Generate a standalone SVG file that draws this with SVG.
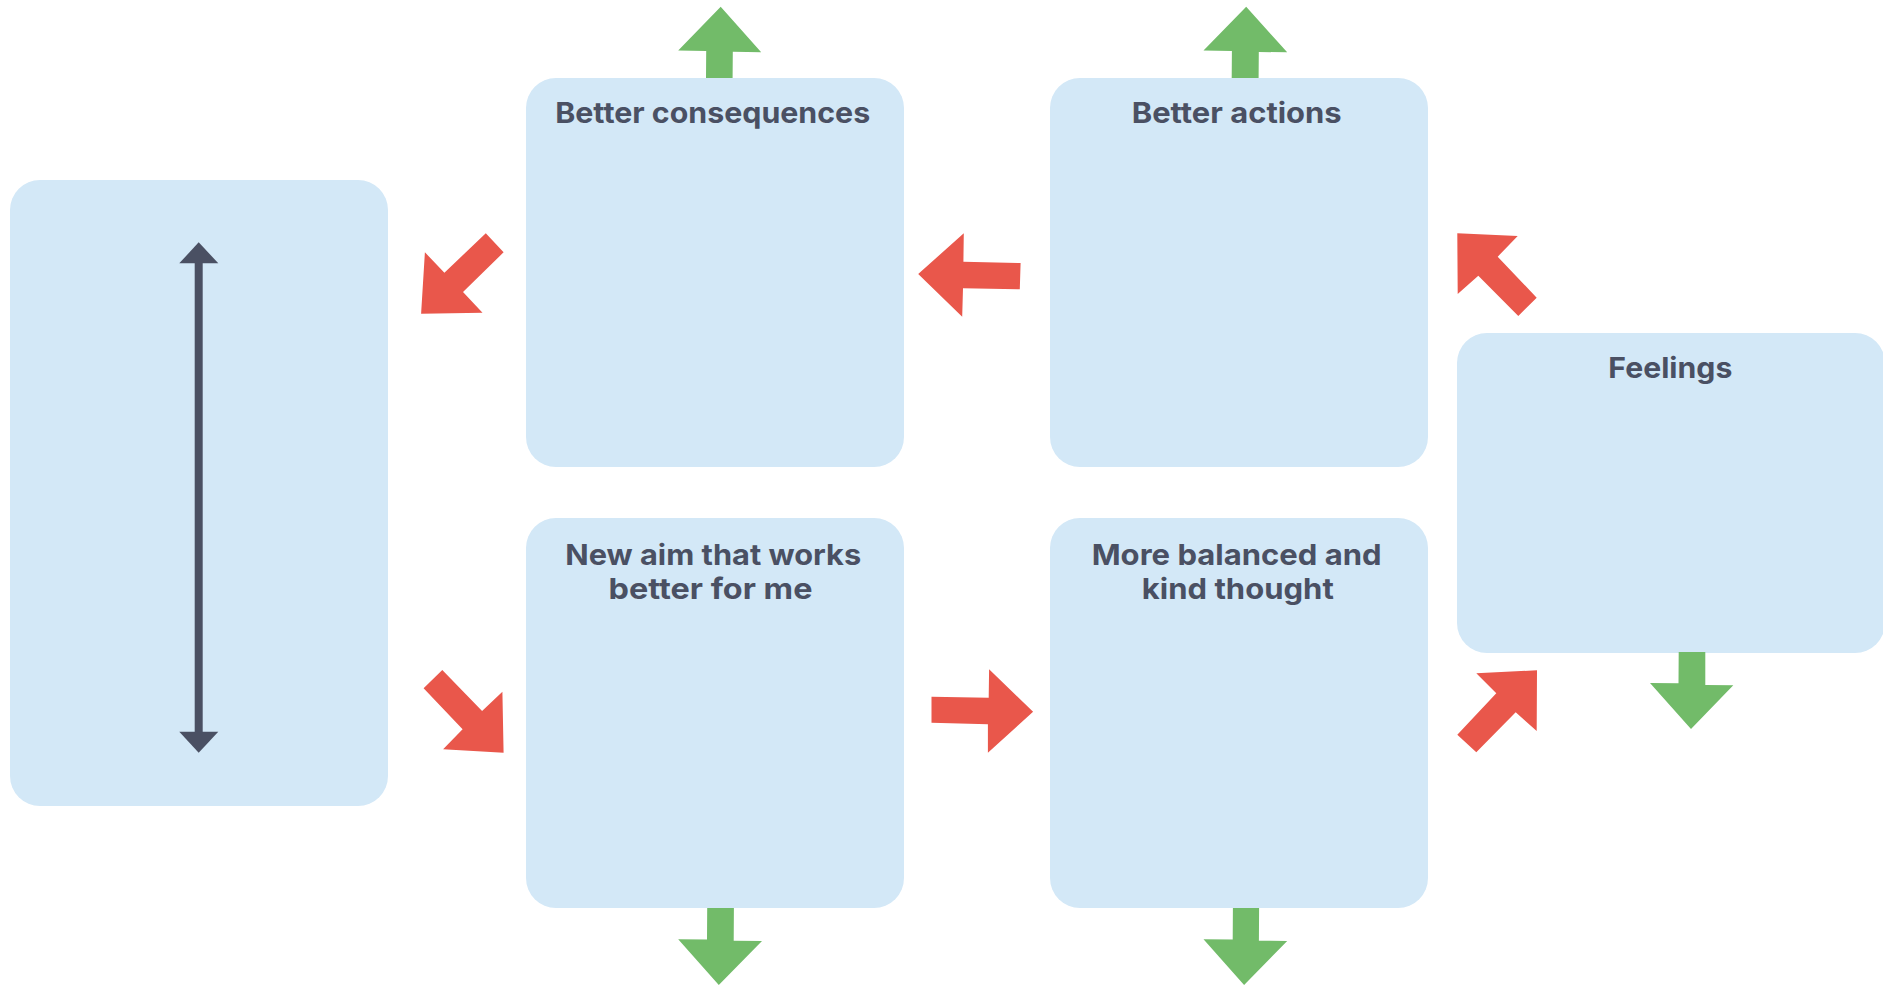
<svg xmlns="http://www.w3.org/2000/svg" width="1883" height="986" viewBox="0 0 1883 986">
  <style>
    .box { fill: #d3e8f7; }
    .label { font-family: "Inter", "Liberation Sans", sans-serif; font-weight: 700; font-size: 29px; fill: #4a5063; text-anchor: middle; }
    .red { fill: #e9574b; }
    .green { fill: #72bb69; }
    .scale-line { stroke: #4a5063; stroke-width: 8; fill: none; }
  </style>
  <defs>
    <marker id="tip" viewBox="0 0 39 21" refX="19.5" refY="0" markerWidth="39" markerHeight="21" markerUnits="userSpaceOnUse" orient="auto-start-reverse">
      <path d="M0,0 L19.5,21 L39,0 Z" fill="#4a5063" transform="translate(0,0)"/>
    </marker>
  </defs>
  <rect width="1883" height="986" fill="#ffffff"/>

  <!-- left panel with vertical scale -->
  <g id="scale-panel">
    <rect class="box" x="10" y="180" width="378" height="626" rx="30"/>
  </g>

  <g id="better-consequences">
    <rect class="box" x="526" y="78" width="378" height="389" rx="30"/>
    <text class="label" x="712.7" y="123" textLength="315" lengthAdjust="spacingAndGlyphs">Better consequences</text>
  </g>

  <g id="better-actions">
    <rect class="box" x="1050" y="78" width="378" height="389" rx="30"/>
    <text class="label" x="1236.7" y="123" textLength="210" lengthAdjust="spacingAndGlyphs">Better actions</text>
  </g>

  <g id="feelings">
    <rect class="box" x="1457" y="333" width="428" height="320" rx="30"/>
    <text class="label" x="1670.3" y="378.3" textLength="124" lengthAdjust="spacingAndGlyphs">Feelings</text>
  </g>

  <g id="new-aim">
    <rect class="box" x="526" y="518" width="378" height="390" rx="30"/>
    <text class="label" x="713.2" y="565" textLength="296" lengthAdjust="spacingAndGlyphs">New aim that works</text>
    <text class="label" x="710.5" y="598.5" textLength="204" lengthAdjust="spacingAndGlyphs">better for me</text>
  </g>

  <g id="balanced-thought">
    <rect class="box" x="1050" y="518" width="378" height="390" rx="30"/>
    <text class="label" x="1236.7" y="565" textLength="290" lengthAdjust="spacingAndGlyphs">More balanced and</text>
    <text class="label" x="1237.8" y="598.5" textLength="192" lengthAdjust="spacingAndGlyphs">kind thought</text>
  </g>

  <g id="connectors">
    <!-- double-headed scale arrow -->
    <polygon fill="#4a5063" points="198.7,242.3 218.3,263.3 179.3,263.3"/>
    <polygon fill="#4a5063" points="198.7,752.7 218.3,731.7 179.3,731.7"/>
    <line class="scale-line" x1="198.7" y1="262" x2="198.7" y2="733"/>

    <!-- red cycle arrows -->
    <polygon class="red" points="485.8,233.3 503.6,252.3 463,292 482.5,312.7 421.1,313.7 424.9,252.3 444.4,272.7"/>
    <polygon class="red" points="963.8,233.3 963.4,261.7 1020.6,263 1019.8,289.3 963,288.3 962.2,316.7 918.2,274"/>
    <polygon class="red" points="1457.3,233.3 1517.7,236 1497.7,256.7 1536.7,297.7 1518.3,316 1478.3,275.7 1457.7,294"/>
    <polygon class="red" points="1476.3,673.3 1537,670.3 1536.7,731 1515.7,712.3 1476.3,752.3 1457.3,734.7 1496.3,693.3"/>
    <polygon class="red" points="442.3,670 482.1,711 502.4,691.7 503.6,752.7 443.1,749.3 462.6,729.3 423.6,688.3"/>
    <polygon class="red" points="931.5,696.7 988.7,697.7 989.1,669.3 1033.1,711.7 987.9,752.7 987.9,724.3 931.5,722.7"/>

    <!-- green outward arrows -->
    <polygon class="green" points="706,78 706.2,50.9 678.2,50.4 720.7,6.7 761.2,52.2 732.8,51.8 732.6,78"/>
    <polygon class="green" points="1231.7,78 1231.9,51 1203.5,50.6 1246.2,6.7 1287.2,52.3 1258.8,52 1258.6,78"/>
    <polygon class="green" points="707.2,908 707,939.5 678.2,939.3 718.8,985 762,941 733.7,940.7 733.9,908"/>
    <polygon class="green" points="1232.9,908 1232.7,939.5 1203.5,939.3 1244.1,985 1287.2,941 1258.9,940.7 1259.1,908"/>
    <polygon class="green" points="1678.7,652 1678.5,683.3 1650,683 1691,729 1733.3,685.3 1705.3,685 1705.3,652"/>
  </g>
</svg>
